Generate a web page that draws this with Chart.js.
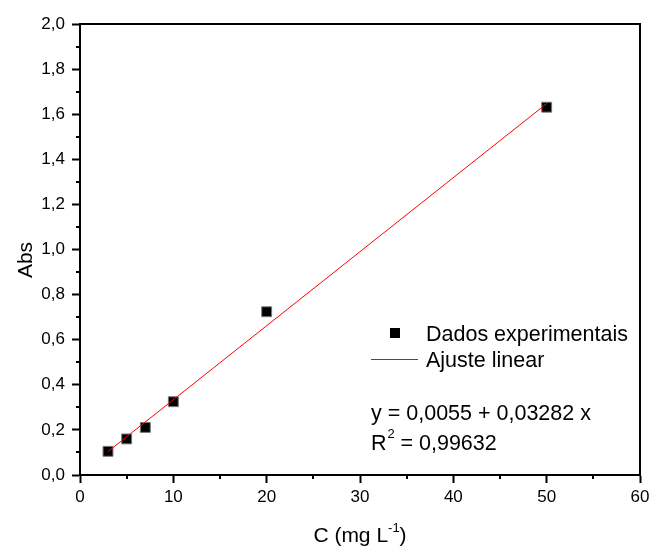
<!DOCTYPE html>
<html>
<head>
<meta charset="utf-8">
<script src="https://cdn.jsdelivr.net/npm/chart.js@4.4.0/dist/chart.umd.min.js"></script>
<style>
  body { margin: 0; background: #fff; }
  #wrap { width: 651px; height: 547px; }
</style>
</head>
<body>
<div id="wrap"><canvas id="calib"></canvas></div>
<script>
// Calibration curve data
const concX = [3, 5, 7, 10, 20, 50];
const absY = [0.105, 0.16, 0.211, 0.325, 0.724, 1.631];

// Linear fit end points
const fitX = [3, 50];
const fitY = [0.104, 1.647];

const xTicks = [0, 10, 20, 30, 40, 50, 60];
const yTicks = [0, 0.2, 0.4, 0.6, 0.8, 1.0, 1.2, 1.4, 1.6, 1.8, 2.0];

const FONT = "'Liberation Sans', Arial, sans-serif";

// Frame, minor ticks, titles, legend and equation
const decorPlugin = {
  id: 'decor',
  afterDraw(chart) {
    const { ctx, chartArea: a, scales } = chart;
    ctx.save();
    ctx.strokeStyle = '#000';
    ctx.lineWidth = 2;

    // top + right frame
    ctx.beginPath();
    ctx.moveTo(a.left - 1, a.top);
    ctx.lineTo(a.right, a.top);
    ctx.lineTo(a.right, a.bottom + 1);
    ctx.stroke();

    // minor ticks
    ctx.beginPath();
    for (let v = 5; v < 60; v += 10) {
      const px = Math.round(scales.x.getPixelForValue(v));
      ctx.moveTo(px, a.bottom);
      ctx.lineTo(px, a.bottom + 4);
    }
    for (let i = 1; i < 20; i += 2) {
      const py = Math.round(scales.y.getPixelForValue(i / 10));
      ctx.moveTo(a.left, py);
      ctx.lineTo(a.left - 4, py);
    }
    ctx.stroke();

    ctx.fillStyle = '#000';
    ctx.textBaseline = 'alphabetic';

    // y title
    ctx.save();
    ctx.translate(32, 260);
    ctx.rotate(-Math.PI / 2);
    ctx.font = '21px ' + FONT;
    ctx.textAlign = 'center';
    ctx.fillText('Abs', 0, 0);
    ctx.restore();

    // x title with superscript
    ctx.textAlign = 'left';
    const p1 = 'C (mg L', sup = '-1', p2 = ')';
    ctx.font = '21px ' + FONT;
    const w1 = ctx.measureText(p1).width;
    const w3 = ctx.measureText(p2).width;
    ctx.font = '13px ' + FONT;
    const w2 = ctx.measureText(sup).width;
    const x0 = 360 - (w1 + w2 + w3) / 2;
    const base = 542;
    ctx.font = '21px ' + FONT;
    ctx.fillText(p1, x0, base);
    ctx.font = '13px ' + FONT;
    ctx.fillText(sup, x0 + w1, base - 10);
    ctx.font = '21px ' + FONT;
    ctx.fillText(p2, x0 + w1 + w2, base);

    // legend
    const LF = '21.5px ' + FONT;
    ctx.fillRect(390, 328, 10, 10);
    ctx.font = LF;
    ctx.fillText('Dados experimentais', 426, 341);
    ctx.strokeStyle = '#ff0000';
    ctx.lineWidth = 1;
    ctx.beginPath();
    ctx.moveTo(371, 359.5);
    ctx.lineTo(418, 359.5);
    ctx.stroke();
    ctx.fillText('Ajuste linear', 426, 367);

    // fit equation
    ctx.fillText('y = 0,0055 + 0,03282 x', 371, 420);
    ctx.fillText('R', 371, 450);
    const wr = ctx.measureText('R').width;
    ctx.font = '13px ' + FONT;
    ctx.fillText('2', 371 + wr + 1, 438);
    ctx.font = LF;
    ctx.fillText(' = 0,99632', 371 + wr + 8, 450);

    ctx.restore();
  }
};

new Chart(document.getElementById('calib'), {
  type: 'scatter',
  data: {
    datasets: [
      {
        label: 'Ajuste linear',
        data: fitX.map((x, i) => ({ x: x, y: fitY[i] })),
        showLine: true,
        borderColor: '#ff0000',
        borderWidth: 1,
        pointRadius: 0,
        order: 0
      },
      {
        label: 'Dados experimentais',
        data: concX.map((x, i) => ({ x: x, y: absY[i] })),
        pointStyle: 'rect',
        pointRadius: 7,
        backgroundColor: '#000',
        borderColor: '#777',
        borderWidth: 1,
        order: 1
      }
    ]
  },
  options: {
    responsive: true,
    maintainAspectRatio: false,
    animation: false,
    layout: { padding: { left: 0, top: 24, right: 11, bottom: 0 } },
    plugins: {
      legend: { display: false },
      tooltip: { enabled: false }
    },
    scales: {
      x: {
        type: 'linear',
        min: 0,
        max: 60,
        afterFit: s => { s.height = 72; s.paddingLeft = 0; s.paddingRight = 0; },
        afterBuildTicks: s => { s.ticks = xTicks.map(v => ({ value: v })); },
        ticks: {
          color: '#000',
          padding: 4,
          font: { family: FONT, size: 17 },
          callback: v => String(v)
        },
        grid: {
          drawOnChartArea: false,
          tickLength: 8,
          tickColor: '#000',
          tickWidth: 2
        },
        border: { color: '#000', width: 2 }
      },
      y: {
        type: 'linear',
        min: 0,
        max: 2,
        afterFit: s => { s.width = 80; s.paddingTop = 0; s.paddingBottom = 0; },
        afterBuildTicks: s => { s.ticks = yTicks.map(v => ({ value: v })); },
        ticks: {
          color: '#000',
          padding: 7,
          font: { family: FONT, size: 17 },
          callback: v => v.toFixed(1).replace('.', ',')
        },
        grid: {
          drawOnChartArea: false,
          tickLength: 8,
          tickColor: '#000',
          tickWidth: 2
        },
        border: { color: '#000', width: 2 }
      }
    }
  },
  plugins: [decorPlugin]
});
</script>
</body>
</html>
